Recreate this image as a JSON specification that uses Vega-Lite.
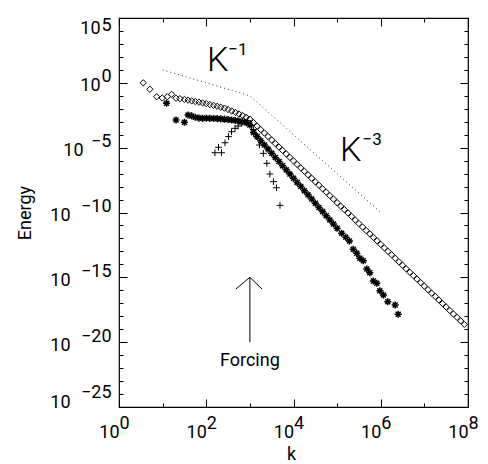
{
 "$schema": "https://vega.github.io/schema/vega-lite/v6.json",
 "width": 349, "height": 389,
 "autosize": "none",
 "padding": {"left": 119, "top": 18, "right": 20, "bottom": 57},
 "background": "white",
 "config": {
  "view": {"stroke": "black", "strokeWidth": 1.2},
  "axis": {"grid": false, "domain": false, "labelFont": "Roboto", "labelFontWeight": "normal", "labelColor": "#000000", "tickColor": "black", "tickWidth": 1, "titleFont": "Roboto", "titleFontWeight": "normal", "titleColor": "#000000", "labelFontSize": 18, "titleFontSize": 18, "labelFlush": false, "labelOverlap": false},
  "text": {"font": "Roboto", "fontWeight": "normal", "color": "#000000"}
 },
 "datasets": {
  "diam": [
   {"k":3.6,"E":1.0},{"k":5.1,"E":0.32},{"k":7.3,"E":0.085},{"k":9.8,"E":0.068},{"k":12.8,"E":0.085},{"k":16.1,"E":0.13},{"k":20.3,"E":0.065},{"k":25,"E":0.06},
   {"k":31.6,"E":5.25e-2},{"k":38.3,"E":4.62e-2},{"k":46.4,"E":4.07e-2},{"k":56.2,"E":3.63e-2},{"k":68.1,"E":3.24e-2},{"k":82.5,"E":2.82e-2},{"k":100,"E":2.48e-2},{"k":121,"E":2.12e-2},{"k":147,"E":1.81e-2},{"k":178,"E":1.55e-2},{"k":215,"E":1.32e-2},{"k":261,"E":1.12e-2},{"k":316,"E":8.79e-3},{"k":383,"E":6.76e-3},{"k":464,"E":5.25e-3},{"k":562,"E":3.98e-3},{"k":681,"E":3.02e-3},{"k":825,"E":2.19e-3},{"k":1000,"E":1.58e-3},
   {"k":1212,"E":8.51e-4},{"k":1468,"E":4.57e-4},{"k":1778,"E":2.48e-4},{"k":2154,"E":1.35e-4},{"k":2610,"E":7.24e-5},{"k":3162,"E":3.89e-5},{"k":3831,"E":2.09e-5},{"k":4642,"E":1.12e-5},{"k":5623,"E":6.17e-6},{"k":6813,"E":3.31e-6},{"k":8254,"E":1.78e-6},{"k":10000,"E":9.55e-7},{"k":12120,"E":5.13e-7},{"k":14680,"E":2.75e-7},{"k":17780,"E":1.51e-7},{"k":21540,"E":8.13e-8},{"k":26100,"E":4.37e-8},{"k":31620,"E":2.34e-8},{"k":38310,"E":1.26e-8},{"k":46420,"E":6.76e-9},{"k":56230,"E":3.72e-9},{"k":68130,"E":2.0e-9},{"k":82540,"E":1.07e-9},{"k":1e5,"E":5.75e-10},{"k":1.212e5,"E":3.09e-10},{"k":1.468e5,"E":1.66e-10},{"k":1.778e5,"E":9.12e-11},{"k":2.154e5,"E":4.9e-11},{"k":2.61e5,"E":2.63e-11},{"k":3.162e5,"E":1.41e-11},{"k":3.831e5,"E":7.59e-12},{"k":4.642e5,"E":4.07e-12},{"k":5.623e5,"E":2.24e-12},{"k":6.813e5,"E":1.2e-12},{"k":8.254e5,"E":6.46e-13},{"k":1e6,"E":3.47e-13},{"k":1.212e6,"E":1.86e-13},{"k":1.468e6,"E":1e-13},{"k":1.778e6,"E":5.5e-14},{"k":2.154e6,"E":2.95e-14},{"k":2.61e6,"E":1.58e-14},{"k":3.162e6,"E":8.51e-15},{"k":3.831e6,"E":4.57e-15},{"k":4.642e6,"E":2.45e-15},{"k":5.623e6,"E":1.35e-15},{"k":6.813e6,"E":7.24e-16},{"k":8.254e6,"E":3.89e-16},{"k":1e7,"E":2.09e-16},{"k":1.212e7,"E":1.12e-16},{"k":1.468e7,"E":6.03e-17},{"k":1.778e7,"E":3.31e-17},{"k":2.154e7,"E":1.78e-17},{"k":2.61e7,"E":9.55e-18},{"k":3.162e7,"E":5.13e-18},{"k":3.831e7,"E":2.75e-18},{"k":4.642e7,"E":1.48e-18},{"k":5.623e7,"E":8.13e-19},{"k":6.813e7,"E":4.37e-19},{"k":8.254e7,"E":2.34e-19}
  ],
  "ast": [
   {"k":12.3,"E":2.63e-2},{"k":20.3,"E":1.35e-3},{"k":31.6,"E":9.12e-4},
   {"k":38.3,"E":3.31e-3},{"k":46.4,"E":2.82e-3},{"k":56.2,"E":2.24e-3},{"k":68.1,"E":1.91e-3},{"k":82.5,"E":1.82e-3},{"k":100,"E":1.86e-3},{"k":121,"E":1.82e-3},{"k":147,"E":1.78e-3},{"k":178,"E":1.74e-3},{"k":215,"E":1.66e-3},{"k":261,"E":1.58e-3},{"k":316,"E":1.48e-3},{"k":383,"E":1.35e-3},{"k":464,"E":1.23e-3},{"k":562,"E":1.12e-3},{"k":681,"E":1.0e-3},{"k":825,"E":8.32e-4},{"k":1000,"E":5.62e-4},
   {"k":1212,"E":1.51e-4},{"k":1468,"E":7.24e-5},{"k":1778,"E":3.47e-5},{"k":2154,"E":1.62e-5},{"k":2610,"E":7.76e-6},{"k":3162,"E":3.72e-6},{"k":3831,"E":1.78e-6},{"k":4642,"E":8.51e-7},{"k":5623,"E":4.07e-7},{"k":6813,"E":1.95e-7},{"k":8254,"E":9.12e-8},{"k":10000,"E":4.37e-8},{"k":12120,"E":2.09e-8},{"k":14680,"E":1e-8},{"k":17780,"E":4.79e-9},{"k":21540,"E":2.29e-9},{"k":26100,"E":1.1e-9},{"k":31620,"E":5.13e-10},{"k":38310,"E":2.45e-10},{"k":46420,"E":1.17e-10},{"k":56230,"E":5.62e-11},{"k":68130,"E":2.69e-11},{"k":82540,"E":1.29e-11},{"k":1e5,"E":6.17e-12},{"k":1.27e5,"E":2.51e-12},{"k":1.58e5,"E":1.23e-12},{"k":1.91e5,"E":6.31e-13},{"k":2.34e5,"E":1.45e-13},{"k":2.82e5,"E":7.08e-14},{"k":3.31e5,"E":2.95e-14},{"k":3.98e5,"E":1.91e-14},{"k":4.79e5,"E":4.37e-15},{"k":5.62e5,"E":2.29e-15},{"k":6.76e5,"E":5.25e-16},{"k":8.13e5,"E":3.47e-16},{"k":9.55e5,"E":9.33e-17},{"k":1.15e6,"E":4.37e-17},{"k":1.45e6,"E":1.32e-17},{"k":2.14e6,"E":7.41e-18},{"k":2.51e6,"E":1.41e-18}
  ],
  "plus": [
   {"k":158,"E":4.07e-6},{"k":191,"E":1.07e-5},{"k":224,"E":4.07e-6},{"k":269,"E":2.4e-5},{"k":324,"E":7.08e-5},{"k":380,"E":1.7e-4},{"k":457,"E":3.09e-4},{"k":537,"E":4.68e-4},{"k":646,"E":7.59e-4},{"k":759,"E":1.05e-3},{"k":891,"E":1.2e-3},{"k":1096,"E":5e-4},{"k":1200,"E":2.51e-4},{"k":1410,"E":7.08e-5},{"k":1660,"E":1.58e-5},{"k":2040,"E":3.63e-6},{"k":2450,"E":6.17e-7},{"k":2880,"E":9.33e-8},{"k":3470,"E":2.4e-8},{"k":4070,"E":8.13e-9},{"k":4900,"E":3.55e-10}
  ],
  "ref": [{"k":10,"E":10},{"k":1000,"E":0.1},{"k":1e6,"E":1e-10}],
  "klab": [{"k":104,"E":8.7,"t":"K"},{"k":1.16e5,"E":9.3e-7,"t":"K"}],
  "ksup": [{"k":320,"E":141,"t":"−1"},{"k":3.8e5,"E":1.62e-5,"t":"−3"}],
  "forcing": [{"k":1000,"E":1.45e-22,"t":"Forcing"}],
  "shaft": [{"k":1000,"E":1e-20,"E2":1e-15}],
  "head": [{"k":479,"E":1.26e-16},{"k":1000,"E":1e-15},{"k":1897,"E":1.26e-16}]
 },
 "resolve": {"axis": {"x": "independent", "y": "independent"}},
 "layer": [
  {
   "data": {"name": "diam"},
   "mark": {"type": "point", "shape": "diamond", "filled": false, "size": 40, "color": "black", "strokeWidth": 1, "opacity": 1},
   "encoding": {
    "x": {"field": "k", "type": "quantitative", "scale": {"type": "log", "domain": [1, 1e8], "nice": false},
     "axis": {"orient": "bottom", "values": [1, 100, 10000, 1000000, 100000000], "ticks": false, "labelExpr": "'10'", "labelAlign": "right", "labelDx": 3, "labelBaseline": "alphabetic", "labelPadding": 30, "title": "k", "titleX": 172, "titleY": 52, "titleBaseline": "alphabetic", "titleAlign": "center"}},
    "y": {"field": "E", "type": "quantitative", "scale": {"type": "log", "domain": [1e-25, 1e5], "nice": false},
     "axis": {"orient": "left", "values": [1e5, 1], "ticks": false, "labelExpr": "'10'", "labelAlign": "right", "labelBaseline": "alphabetic", "labelPadding": 19,
      "labelOffset": {"condition": {"test": "datum.value > 1e4", "value": 15}, "value": 8},
      "title": "Energy", "titleX": -89, "titleY": 194.5, "titleAngle": -90, "titleAlign": "center", "titleBaseline": "alphabetic"}}
   }
  },
  {
   "data": {"name": "ast"},
   "mark": {"type": "point", "shape": "M-1,0L1,0M0,-1L0,1M-0.7,-0.7L0.7,0.7M-0.7,0.7L0.7,-0.7", "filled": false, "size": 50, "color": "black", "strokeWidth": 1.5, "opacity": 1},
   "encoding": {
    "x": {"field": "k", "type": "quantitative", "scale": {"type": "log", "domain": [1, 1e8], "nice": false},
     "axis": {"orient": "bottom", "values": [1, 100, 10000, 1000000, 100000000], "ticks": false, "labelExpr": "format(round(log(datum.value)/LN10), 'd')", "labelAlign": "left", "labelDx": 5, "labelBaseline": "alphabetic", "labelPadding": 21, "title": null}},
    "y": {"field": "E", "type": "quantitative", "scale": {"type": "log", "domain": [1e-25, 1e5], "nice": false},
     "axis": {"orient": "left", "values": [1e5, 1, 1e-5, 1e-10, 1e-15, 1e-20, 1e-25], "ticks": false, "labelExpr": "format(round(log(datum.value)/LN10), 'd')", "labelAlign": "right", "labelBaseline": "alphabetic", "labelPadding": 8,
      "labelOffset": {"condition": [{"test": "datum.value > 1e4", "value": 12}, {"test": "datum.value < 1e-24", "value": -9.5}], "value": -1},
      "title": null}}
   }
  },
  {
   "data": {"name": "plus"},
   "mark": {"type": "point", "shape": "M-1,0L1,0M0,-1L0,1", "filled": false, "size": 45, "color": "black", "strokeWidth": 1, "opacity": 1},
   "encoding": {
    "x": {"field": "k", "type": "quantitative", "scale": {"type": "log", "domain": [1, 1e8], "nice": false},
     "axis": {"orient": "bottom", "values": [1, 10, 100, 1000, 10000, 100000, 1000000, 10000000, 100000000], "labels": false, "tickSize": -4, "title": null}},
    "y": {"field": "E", "type": "quantitative", "scale": {"type": "log", "domain": [1e-25, 1e5], "nice": false},
     "axis": {"orient": "left", "values": [1e5,1e4,1e3,100,10,1,0.1,0.01,1e-3,1e-4,1e-5,1e-6,1e-7,1e-8,1e-9,1e-10,1e-11,1e-12,1e-13,1e-14,1e-15,1e-16,1e-17,1e-18,1e-19,1e-20,1e-21,1e-22,1e-23,1e-24,1e-25], "labels": false, "tickSize": -4, "title": null}}
   }
  },
  {
   "data": {"name": "ref"},
   "mark": {"type": "line", "color": "#333", "strokeWidth": 1, "strokeDash": [1, 3]},
   "encoding": {
    "x": {"field": "k", "type": "quantitative", "scale": {"type": "log", "domain": [1, 1e8], "nice": false},
     "axis": {"orient": "bottom", "values": [1, 100, 10000, 1000000, 100000000], "labels": false, "tickSize": -8, "title": null}},
    "y": {"field": "E", "type": "quantitative", "scale": {"type": "log", "domain": [1e-25, 1e5], "nice": false},
     "axis": {"orient": "left", "values": [1e5, 1, 1e-5, 1e-10, 1e-15, 1e-20, 1e-25], "labels": false, "tickSize": -8, "title": null}}
   }
  },
  {
   "data": {"name": "klab"},
   "mark": {"type": "text", "fontSize": 34, "fontWeight": 300, "align": "left", "baseline": "alphabetic"},
   "encoding": {
    "x": {"field": "k", "type": "quantitative", "scale": {"type": "log", "domain": [1, 1e8], "nice": false},
     "axis": {"orient": "top", "values": [1, 10, 100, 1000, 10000, 100000, 1000000, 10000000, 100000000], "labels": false, "tickSize": -4, "title": null}},
    "y": {"field": "E", "type": "quantitative", "scale": {"type": "log", "domain": [1e-25, 1e5], "nice": false},
     "axis": {"orient": "right", "values": [1e5,1e4,1e3,100,10,1,0.1,0.01,1e-3,1e-4,1e-5,1e-6,1e-7,1e-8,1e-9,1e-10,1e-11,1e-12,1e-13,1e-14,1e-15,1e-16,1e-17,1e-18,1e-19,1e-20,1e-21,1e-22,1e-23,1e-24,1e-25], "labels": false, "tickSize": -4, "title": null}},
    "text": {"field": "t"}
   }
  },
  {
   "data": {"name": "ksup"},
   "mark": {"type": "text", "fontSize": 17, "align": "left", "baseline": "alphabetic"},
   "encoding": {
    "x": {"field": "k", "type": "quantitative", "scale": {"type": "log", "domain": [1, 1e8], "nice": false},
     "axis": {"orient": "top", "values": [1, 100, 10000, 1000000, 100000000], "labels": false, "tickSize": -8, "title": null}},
    "y": {"field": "E", "type": "quantitative", "scale": {"type": "log", "domain": [1e-25, 1e5], "nice": false},
     "axis": {"orient": "right", "values": [1e5, 1, 1e-5, 1e-10, 1e-15, 1e-20, 1e-25], "labels": false, "tickSize": -8, "title": null}},
    "text": {"field": "t"}
   }
  },
  {
   "data": {"name": "forcing"},
   "mark": {"type": "text", "fontSize": 18, "align": "center", "baseline": "alphabetic"},
   "encoding": {
    "x": {"field": "k", "type": "quantitative", "scale": {"type": "log", "domain": [1, 1e8], "nice": false}, "axis": null},
    "y": {"field": "E", "type": "quantitative", "scale": {"type": "log", "domain": [1e-25, 1e5], "nice": false},
     "axis": {"orient": "left", "values": [1e-5], "ticks": false, "labelExpr": "'10'", "labelAlign": "right", "labelBaseline": "alphabetic", "labelPadding": 36, "labelOffset": 8, "title": null}},
    "text": {"field": "t"}
   }
  },
  {
   "data": {"name": "shaft"},
   "mark": {"type": "rule", "color": "black", "strokeWidth": 1},
   "encoding": {
    "x": {"field": "k", "type": "quantitative", "scale": {"type": "log", "domain": [1, 1e8], "nice": false}, "axis": null},
    "y": {"field": "E", "type": "quantitative", "scale": {"type": "log", "domain": [1e-25, 1e5], "nice": false},
     "axis": {"orient": "left", "values": [1e-10, 1e-15, 1e-20, 1e-25], "ticks": false, "labelExpr": "'10'", "labelAlign": "right", "labelBaseline": "alphabetic", "labelPadding": 49,
      "labelOffset": {"condition": {"test": "datum.value < 1e-24", "value": 0.5}, "value": 8}, "title": null}},
    "y2": {"field": "E2"}
   }
  },
  {
   "data": {"name": "head"},
   "mark": {"type": "line", "color": "black", "strokeWidth": 1},
   "encoding": {
    "x": {"field": "k", "type": "quantitative", "scale": {"type": "log", "domain": [1, 1e8], "nice": false}, "axis": null},
    "y": {"field": "E", "type": "quantitative", "scale": {"type": "log", "domain": [1e-25, 1e5], "nice": false}, "axis": null}
   }
  }
 ]
}
